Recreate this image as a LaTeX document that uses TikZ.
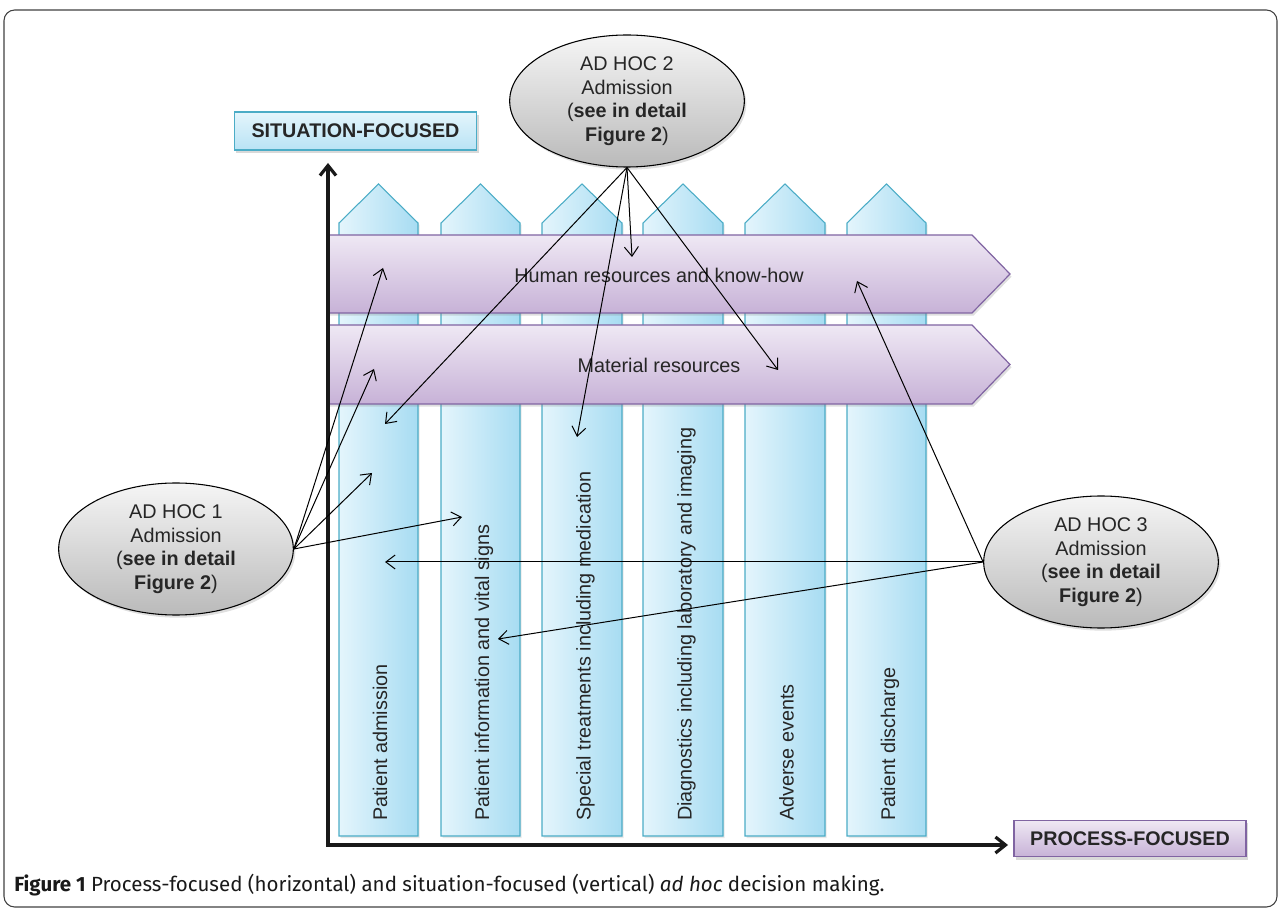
\documentclass[tikz,border=0pt]{standalone}
\usepackage{fontspec}
\setmainfont{Liberation Sans}
\newfontfamily\capfont{Fira Sans}
\usepackage{tikz}
\usetikzlibrary{arrows.meta,shapes.geometric,shadows}

\definecolor{colline}{HTML}{4BACC6}
\definecolor{collight}{HTML}{E4F5FC}
\definecolor{coldark}{HTML}{A7DCF2}
\definecolor{bandline}{HTML}{8064A2}
\definecolor{bandlight}{HTML}{EFE8F4}
\definecolor{banddark}{HTML}{C7B2D7}
\definecolor{ovallight}{HTML}{F5F5F5}
\definecolor{ovaldark}{HTML}{BABABA}
\definecolor{inktext}{HTML}{262626}

\begin{document}
\begin{tikzpicture}[x=0.75pt, y=-0.75pt, font=\fontsize{14.85}{17.6}\selectfont, text=inktext]
\tikzstyle{column}=[draw=colline, line width=0.8pt, left color=collight, right color=coldark,
                    drop shadow={opacity=0.18, shadow xshift=1.2pt, shadow yshift=-1.5pt}]
\tikzstyle{band}=[draw=bandline, line width=0.9pt, top color=bandlight, bottom color=banddark,
                  drop shadow={opacity=0.25, shadow xshift=1.2pt, shadow yshift=-2pt}]
\tikzstyle{adhoc}=[ellipse, draw=black, line width=0.8pt, top color=ovallight, bottom color=ovaldark,
                   minimum width=176pt, minimum height=99pt, inner sep=0pt, align=center,
                   drop shadow={opacity=0.25, shadow xshift=1.5pt, shadow yshift=-2pt}]
\tikzstyle{focusbox}=[draw, line width=0.9pt, inner sep=0pt,
                      font=\fontsize{14.8}{17}\selectfont\bfseries,
                      drop shadow={opacity=0.3, shadow xshift=1.5pt, shadow yshift=-2pt}]
\tikzstyle{collabel}=[rotate=90, anchor=base west, inner sep=0pt]
\tikzstyle{link}=[-{Straight Barb[length=7pt,width=10.5pt]}, line width=0.75pt, black]
\tikzstyle{axis}=[{Straight Barb[length=7.5pt,width=12pt]}-{Straight Barb[length=7.5pt,width=12pt]},
                  line width=2.4pt, black!90]

\useasboundingbox (0,0) rectangle (1282,912);
\draw[rounded corners=8pt, line width=0.8pt, black!75] (4,10) rectangle (1277,907);

\path[column] (339,836) -- (339,223) -- (378.5,184) -- (418,223) -- (418,836) -- cycle;
\path[column] (441,836) -- (441,223) -- (480.5,184) -- (520,223) -- (520,836) -- cycle;
\path[column] (542,836) -- (542,223) -- (582,184) -- (622,223) -- (622,836) -- cycle;
\path[column] (643,836) -- (643,223) -- (683,184) -- (723,223) -- (723,836) -- cycle;
\path[column] (745,836) -- (745,223) -- (785,184) -- (825,223) -- (825,836) -- cycle;
\path[column] (847,836) -- (847,223) -- (886.5,184) -- (926,223) -- (926,836) -- cycle;

\node[collabel] (adm) at (387,821) {Patient admission};
\node[collabel] (info) at (489,821) {Patient information and vital signs};
\node[collabel] (treat) at (590.5,821) {Special treatments including medication};
\node[collabel] (diag) at (691.5,821) {Diagnostics including laboratory and imaging};
\node[collabel] (adv) at (793.5,821) {Adverse events};
\node[collabel] (dis) at (895,821) {Patient discharge};

\path[band] (327,235) -- (972,235) -- (1010,274) -- (972,313) -- (327,313) -- cycle;
\path[band] (327,325) -- (972,325) -- (1010,364.5) -- (972,404) -- (327,404) -- cycle;
\node (human) at (659,275) {Human resources and know-how};
\node (material) at (659,365) {Material resources};

\coordinate (O) at (328,845);
\coordinate (ytop) at (328,163);
\coordinate (xend) at (1008,845);
\draw[axis] (ytop) -- (O) -- (xend);

\node[focusbox, draw=colline, top color=collight, bottom color=coldark!80,
      minimum width=182pt, minimum height=28.5pt] (situation) at (355.5,131) {SITUATION-FOCUSED};
\node[focusbox, draw=bandline, top color=bandlight, bottom color=banddark,
      minimum width=174pt, minimum height=27.5pt] (process) at (1130,838.5) {PROCESS-FOCUSED};

\node[adhoc] (hoc1) at (176,549) {AD HOC 1\\Admission\\(\textbf{see in detail}\\\textbf{Figure 2})};
\node[adhoc] (hoc2) at (627,101) {AD HOC 2\\Admission\\(\textbf{see in detail}\\\textbf{Figure 2})};
\node[adhoc] (hoc3) at (1101,562) {AD HOC 3\\Admission\\(\textbf{see in detail}\\\textbf{Figure 2})};

\coordinate (a1hr) at (383,268);
\coordinate (a1mr) at (374,369);
\coordinate (a1pa) at (372,473);
\coordinate (a1pi) at (462,517);
\coordinate (a2hr) at (632,257);
\coordinate (a2pa) at (385,424);
\coordinate (a2st) at (577,437);
\coordinate (a2mr) at (778,370);
\coordinate (a3pa) at (385,562);
\coordinate (a3pi) at (498,639);
\coordinate (a3hr) at (857,281);

\draw[link] (hoc1.east) -- (a1hr);
\draw[link] (hoc1.east) -- (a1mr);
\draw[link] (hoc1.east) -- (a1pa);
\draw[link] (hoc1.east) -- (a1pi);
\draw[link] (hoc2.south) -- (a2hr);
\draw[link] (hoc2.south) -- (a2pa);
\draw[link] (hoc2.south) -- (a2st);
\draw[link] (hoc2.south) -- (a2mr);
\draw[link] (hoc3.west) -- (a3pa);
\draw[link] (hoc3.west) -- (a3pi);
\draw[link] (hoc3.west) -- (a3hr);

\node[anchor=base west, inner sep=0pt, text=black!90, font=\capfont\fontsize{15.4}{17}\selectfont] (caption) at (14,891)
  {\textbf{Figure 1} Process-focused (horizontal) and situation-focused (vertical) \textit{ad hoc} decision making.};
\end{tikzpicture}
\end{document}
